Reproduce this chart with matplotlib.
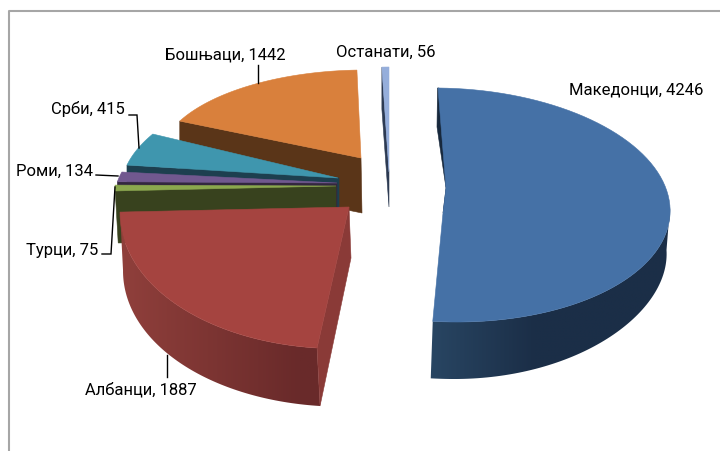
# -*- coding: utf-8 -*-
import numpy as np
import matplotlib
matplotlib.use('Agg')
import matplotlib.pyplot as plt
from matplotlib.colors import to_rgb
from matplotlib.patches import Polygon

plt.rcParams['font.family'] = ['Roboto', 'DejaVu Sans']

categories = ['Македонци', 'Албанци', 'Турци', 'Роми', 'Срби', 'Бошњаци', 'Останати']
values = [4246, 1887, 75, 134, 415, 1442, 56]
top_colors = ['#4571a6', '#a54440', '#8ba84e', '#71588f', '#3f96ae', '#d9803c', '#95aedb']

# slice angles, clockwise from 12 o'clock
edges = np.cumsum([0] + values) / sum(values) * 2 * np.pi
start = dict(zip(categories, edges[:-1]))
stop = dict(zip(categories, edges[1:]))
color = dict(zip(categories, top_colors))


def rim(name, cx, cy, a, b, c, d, n=80, t_min=None):
    # outer arc of a slice, the disc is an oblique ellipse on screen
    t0 = start[name] if t_min is None else t_min
    t = np.linspace(t0, stop[name], n)
    return np.column_stack((cx + a * np.sin(t) + b * np.cos(t),
                            cy + c * np.sin(t) + d * np.cos(t)))


def wall(ax, arc, offset, col1, col2, x1, x2):
    # side wall, colour goes from col1 at x1 to col2 at x2
    pts = np.vstack((arc, (arc + offset)[::-1]))
    xs = np.arange(np.floor(pts[:, 0].min()), np.ceil(pts[:, 0].max()) + 1)
    f = np.clip((xs - x1) / (x2 - x1), 0, 1)[None, :, None]
    img = np.array(to_rgb(col1)) + (np.array(to_rgb(col2)) - np.array(to_rgb(col1))) * f
    im = ax.imshow(img, extent=(xs[0], xs[-1], pts[:, 1].max(), pts[:, 1].min()),
                   aspect='auto', interpolation='bilinear')
    im.set_clip_path(Polygon(pts, closed=True, transform=ax.transData))
    return im


fig = plt.figure(figsize=(7.2, 4.51), dpi=100)
ax = fig.add_axes([0, 0, 1, 1])
ax.axis('off')

# frame
ax.plot([9, 9, 720], [451, 11, 11], color='#a6a6a6', lw=1.5, zorder=0)

# slices are painted back to front
z = 1


def face(pts, col):
    global z
    ax.add_patch(Polygon(pts, closed=True, facecolor=col, edgecolor=col, linewidth=0.4, zorder=z))
    z += 1


# Останати
arc = rim('Останати', 389, 172, 167, 0, 0, -105)
face([arc[0], (389, 172), (389, 207), arc[0] + [0, 42]], '#2c3a52')
face(np.vstack((arc, [(389, 172)])), color['Останати'])

# Бошњаци
apex = (361, 158)
arc = rim('Бошњаци', 361, 158, 201.5, 4.5, 0.2, -88)
face([arc[0], apex, (362, 213), arc[0] + [0, 55]], '#5a3518')
face(np.vstack((arc, [apex])), color['Бошњаци'])

# Срби
apex = (338, 178)
arc = rim('Срби', 338, 178, 215.3, 25, 1.2, -102.7)
face([arc[0], apex, (339, 178), (339, 208), arc[0] + [0, 30]], '#1d3f4f')
face(np.vstack((arc, [apex])), color['Срби'])

# Роми
apex = (337, 183)
arc = rim('Роми', 337, 183, 220, 30, 0, -96)
face([arc[0], apex, (337, 213), arc[0] + [0, 30]], '#33273f')
face(np.vstack((arc, [apex])), color['Роми'])

# Турци
apex = (336, 186)
arc = rim('Турци', 336, 186, 221, 0, -0.4, -103)
face([arc[0], apex, (336, 240), arc[0] + [3, 52]], '#38421e')
face(np.vstack((arc, [apex])), color['Турци'])

# Албанци
apex = (349, 207)
arc = rim('Албанци', 349, 207, 228.7, 11.4, 1.2, -141.7)
im = wall(ax, arc, np.array([3, 58]), '#692a2a', '#8f3f3b', 300, 125)
im.set_zorder(z)
z += 1
face([apex, arc[0], arc[0] + [3, 58], (351, 258)], '#8a3a37')
face(np.vstack((arc, [apex])), color['Албанци'])

# Македонци, wall only on the front half and it gets thinner towards the right
arc = rim('Македонци', 445.5, 205, 224.5, -7.5, 2, -117)
front = rim('Македонци', 445.5, 205, 224.5, -7.5, 2, -117, t_min=np.pi / 2)
s = np.sin(np.linspace(np.pi / 2, stop['Македонци'], len(front)))
depth = np.column_stack((-2 - 1.5 * np.clip(s, 0, 1), 57 - 14 * np.clip(s, 0, 1) ** 2))
im = wall(ax, front, depth, '#1b2e47', '#284562', 535, 433)
im.set_zorder(z)
z += 1
face([(437.5, 88), (437, 127), (446, 188), (443, 213), (447, 190), (439, 88)], '#17283c')
face(np.vstack((arc, [(443, 213), (446, 188)])), color['Македонци'])

ax.set_xlim(0, 720)
ax.set_ylim(451, 0)

# leader lines
leader = dict(color='black', lw=1.0, solid_joinstyle='miter', zorder=z)
ax.plot([258, 258], [65, 83], **leader)
ax.plot([129, 137, 139], [115, 115, 148], **leader)
ax.plot([96, 118], [175, 176], **leader)
ax.plot([102, 111, 115], [254, 254, 187], **leader)
ax.plot([167, 167], [355, 377], **leader)

labels = ['%s, %d' % (n, v) for n, v in zip(categories, values)]
label_pos = [(636, 90), (141, 390), (62, 250), (54, 171), (88, 109), (225, 55), (386, 52)]
for txt, (x, y) in zip(labels, label_pos):
    ax.text(x, y, txt, ha='center', va='center', fontsize=12, color='black', zorder=z)

plt.savefig('out.png', dpi=100)
